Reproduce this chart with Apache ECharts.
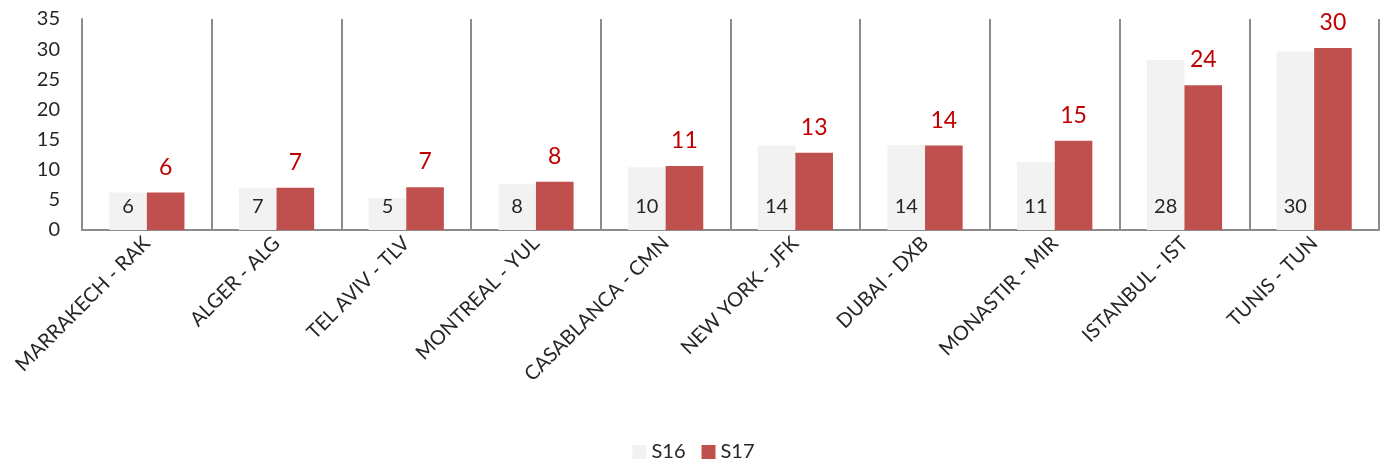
<!DOCTYPE html>
<html><head><meta charset="utf-8">
<script src="https://cdn.jsdelivr.net/npm/echarts@6/dist/echarts.min.js"></script>
<style>html,body{margin:0;padding:0;background:#fff}#c{width:1387px;height:469px}</style>
</head><body><div id="c"></div>
<script>
const categories = ['MARRAKECH - RAK','ALGER - ALG','TEL AVIV - TLV','MONTREAL - YUL','CASABLANCA - CMN','NEW YORK - JFK','DUBAI - DXB','MONASTIR - MIR','ISTANBUL - IST','TUNIS - TUN'];
const s16 = [6.2, 7.0, 5.3, 7.6, 10.4, 14.0, 14.1, 11.3, 28.2, 29.6];
const s17 = [6.2, 7.0, 7.1, 8.0, 10.6, 12.8, 14.0, 14.8, 24.0, 30.2];
const yTicks = [0, 5, 10, 15, 20, 25, 30, 35];

const font = 'Lato, "Open Sans", sans-serif';
const chart = echarts.init(document.getElementById('c'));
chart.setOption({
  animation: false,
  textStyle: {fontFamily: font},
  grid: {left: 82, right: 8, top: 19, bottom: 239, containLabel: false},
  legend: {
    bottom: 2, left: 'center', itemWidth: 14, itemHeight: 14, itemGap: 16,
    icon: 'rect',
    textStyle: {fontSize: 20, color: '#262626', fontFamily: font},
    data: ['S16', 'S17']
  },
  xAxis: {
    type: 'category', data: categories,
    axisLine: {lineStyle: {color: '#8c8c8c', width: 2}},
    axisTick: {show: false},
    splitLine: {show: true, interval: 0, lineStyle: {color: '#8c8c8c', width: 2}},
    axisLabel: {interval: 0, rotate: 45, fontSize: 20, color: '#262626', margin: 10, fontFamily: font}
  },
  yAxis: {
    type: 'value', min: yTicks[0], max: yTicks[yTicks.length - 1], interval: 5,
    axisLine: {show: true, lineStyle: {color: '#8c8c8c', width: 2}},
    axisTick: {show: false},
    splitLine: {show: false},
    axisLabel: {fontSize: 20, color: '#262626', margin: 22, fontFamily: font}
  },
  series: [
    {
      name: 'S16', type: 'bar', data: s16, barGap: '0%', barCategoryGap: '42%',
      itemStyle: {color: '#F2F2F2'},
      label: {show: true, position: 'insideBottom', distance: 13, fontSize: 20, color: '#262626', fontFamily: font,
        formatter: p => Math.round(p.value)}
    },
    {
      name: 'S17', type: 'bar', data: s17, barGap: '0%', barCategoryGap: '42%',
      itemStyle: {color: '#C0504D'},
      label: {show: true, position: 'top', distance: 14, fontSize: 23, color: '#C00000', fontFamily: font,
        formatter: p => Math.round(p.value)}
    }
  ]
});
</script></body></html>
